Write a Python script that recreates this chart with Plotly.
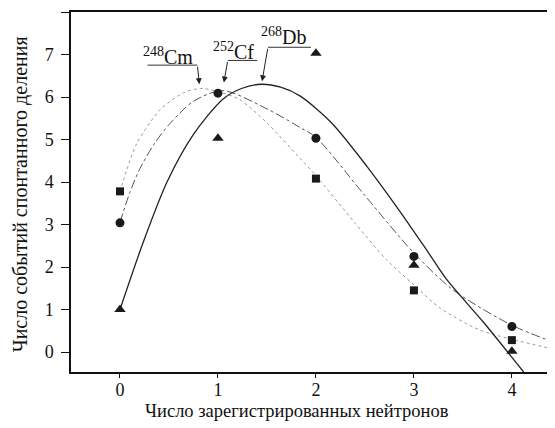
import plotly.graph_objects as go

# ---- data ----
neutrons = [0, 1, 2, 3, 4]
db_counts = [1.0, 5.03, 7.03, 2.04, 0.02]      # 268Db, triangles
cf_counts = [3.04, 6.09, 5.03, 2.25, 0.6]      # 252Cf, circles
cm_counts = [3.78, None, 4.08, 1.45, 0.28]     # 248Cm, squares

# fitted curves
db_fit_x = [0, 0.24, 0.48, 0.75, 1.05, 1.24, 1.44, 1.64, 1.84, 2.16, 2.52, 2.86, 3.13, 3.33, 3.71, 4.12]
db_fit_y = [1.0, 2.6, 4.0, 5.12, 5.95, 6.2, 6.3, 6.23, 6.02, 5.39, 4.37, 3.3, 2.4, 1.72, 0.7, -0.47]
cf_fit_x = [0, 0.1, 0.2, 0.35, 0.5, 0.75, 1.05, 1.5, 1.84, 2.0, 2.5, 3.0, 3.4, 4.0, 4.44]
cf_fit_y = [3.05, 3.75, 4.3, 4.9, 5.35, 5.9, 6.15, 5.72, 5.28, 5.05, 3.68, 2.33, 1.46, 0.63, 0.22]
cm_fit_x = [0, 0.07, 0.17, 0.41, 0.65, 0.82, 1.0, 1.22, 1.5, 1.84, 2.0, 2.4, 2.72, 3.0, 3.27, 3.67, 4.0, 4.44]
cm_fit_y = [3.77, 4.29, 4.9, 5.7, 6.1, 6.2, 6.13, 5.94, 5.39, 4.55, 4.15, 3.03, 2.17, 1.58, 1.03, 0.52, 0.3, 0.06]

x_ticks = [0, 1, 2, 3, 4]
y_ticks = [0, 1, 2, 3, 4, 5, 6, 7, 8]
x_title = "Число зарегистрированных нейтронов"
y_title = "Число событий спонтанного деления"

# label annotation: (text, text x, text y, underline x0, underline x1, line y, leader start x, arrow tip x, arrow tip y)
labels = [
    ("<sup>248</sup>Cm", 0.485, 6.96, 0.28, 0.79, 6.75, 0.79, 0.81, 6.3),
    ("<sup>252</sup>Cf", 1.158, 7.09, 1.10, 1.40, 6.86, 1.10, 1.06, 6.34),
    ("<sup>268</sup>Db", 1.67, 7.43, 1.51, 1.95, 7.17, 1.51, 1.45, 6.37),
]

FONT = "Liberation Serif"
BODY = 8  # default page margin of the html body, compensated in the figure size

fig = go.Figure()

fig.add_trace(go.Scatter(x=cm_fit_x, y=cm_fit_y, mode="lines",
                         line=dict(color="#9a9a9a", width=1, dash="dot", shape="spline", smoothing=0.8),
                         showlegend=False, hoverinfo="skip"))
fig.add_trace(go.Scatter(x=cf_fit_x, y=cf_fit_y, mode="lines",
                         line=dict(color="#555555", width=1, dash="dashdot", shape="spline", smoothing=0.8),
                         showlegend=False, hoverinfo="skip"))
fig.add_trace(go.Scatter(x=db_fit_x, y=db_fit_y, mode="lines",
                         line=dict(color="#222222", width=1.3, shape="spline", smoothing=0.8),
                         showlegend=False, hoverinfo="skip"))

fig.add_trace(go.Scatter(x=neutrons, y=cm_counts, mode="markers",
                         marker=dict(symbol="square", size=8, color="#1a1a1a"), showlegend=False))
fig.add_trace(go.Scatter(x=neutrons, y=cf_counts, mode="markers",
                         marker=dict(symbol="circle", size=9, color="#1a1a1a"), showlegend=False))
fig.add_trace(go.Scatter(x=neutrons, y=db_counts, mode="markers",
                         marker=dict(symbol="triangle-up", size=10, color="#1a1a1a"), showlegend=False))

for text, tx, ty, ux0, ux1, ly, lx, ax_tip, ay_tip in labels:
    fig.add_annotation(x=tx, y=ty, text=text, showarrow=False,
                       font=dict(family=FONT, size=20, color="#111111"))
    fig.add_shape(type="line", x0=ux0, x1=ux1, y0=ly, y1=ly,
                  line=dict(color="#333333", width=1))
    fig.add_annotation(x=ax_tip, y=ay_tip, ax=lx, ay=ly, axref="x", ayref="y",
                       text="", showarrow=True, arrowhead=2, arrowsize=1.2,
                       arrowwidth=1, arrowcolor="#222222")

# axis titles as paper-positioned texts
fig.add_annotation(xref="paper", yref="paper", x=0.467, y=-0.108, text=x_title,
                   showarrow=False, xanchor="center", yanchor="middle",
                   font=dict(family=FONT, size=18.5, color="#111111"))
fig.add_annotation(xref="paper", yref="paper", x=-0.105, y=0.494, text=y_title,
                   showarrow=False, xanchor="center", yanchor="middle", textangle=-90,
                   font=dict(family=FONT, size=20, color="#111111"))

fig.update_layout(
    width=555 - BODY, height=428 - BODY,
    margin=dict(l=71 - BODY, r=0, t=12 - BODY, b=56),
    paper_bgcolor="white", plot_bgcolor="white",
    font=dict(family=FONT, size=18, color="#111111"),
    showlegend=False,
)
fig.update_xaxes(range=[-0.5, 4.44], tickvals=x_ticks, ticks="outside", ticklen=4,
                 tickcolor="#111111", showline=True, linecolor="#111111", linewidth=1.5,
                 mirror=True, showgrid=False, zeroline=False, automargin=False,
                 ticklabelstandoff=-3,
                 tickfont=dict(family=FONT, size=18, color="#111111"))
fig.update_yaxes(range=[-0.47, 8], tickvals=y_ticks, ticks="outside", ticklen=8,
                 tickcolor="#111111", showline=True, linecolor="#111111", linewidth=1.5,
                 showgrid=False, zeroline=False, automargin=False,
                 ticklabelstandoff=4,
                 tickfont=dict(family=FONT, size=18, color="#111111"))

fig.write_html("out.html")
